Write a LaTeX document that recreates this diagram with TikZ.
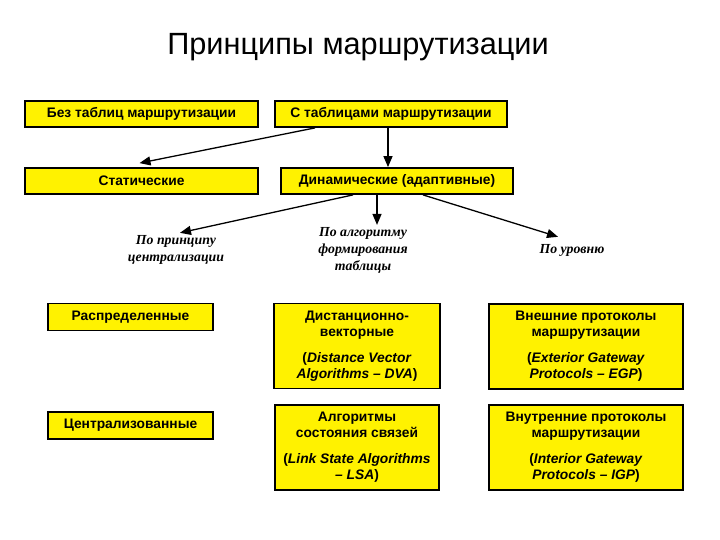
\documentclass[tikz,border=0pt]{standalone}
\usepackage{fontspec}
\setmainfont{Liberation Sans}
\newfontfamily\critfont{Liberation Serif}
\usetikzlibrary{arrows.meta, positioning}

\begin{document}
\begin{tikzpicture}[
    x=1pt, y=-1pt,
    box/.style={rectangle, draw, line width=1.8pt, fill=yellow, align=center,
        inner sep=0pt, font=\fontsize{13.8}{16}\selectfont\bfseries},
    wide/.style={box, minimum width=233pt, minimum height=26pt},
    short/.style={box, minimum width=165pt, minimum height=27pt},
    tall/.style={box, minimum height=85pt},
    crit/.style={align=center, inner sep=2pt,
        font=\critfont\fontsize{13.8}{17}\selectfont\bfseries\itshape},
    arr/.style={-{Triangle[length=11pt, width=9pt]}, line width=1.3pt},
]
\useasboundingbox (0,0) rectangle (720,540);

\node[anchor=base, font=\fontsize{30.7}{36}\selectfont] (title) at (358,55)
    {Принципы маршрутизации};

% first levels
\node[wide] (notab) at (141.5,114) {Без таблиц маршрутизации};
\node[wide, minimum width=232pt] (withtab) at (391,114)
    {С таблицами маршрутизации};
\node[wide] (static) at (141.5,181) {Статические};
\node[wide, minimum width=232pt] (dynamic) at (397,181)
    {Динамические (адаптивные)};

% criteria
\node[crit] (princ) at (176,249.5) {По принципу\\централизации};
\node[crit] (algo) at (363,250) {По алгоритму\\формирования\\таблицы};
\node[crit] (level) at (572,250) {По уровню};

% classes
\node[short] (distrib) at (130.5,317) {Распределенные};
\node[short] (central) at (130.5,425.5) {Централизованные};
\node[tall, minimum width=166pt] (dva) at (357,346)
    {Дистанционно-\\векторные\\[10pt]
     (\textit{Distance Vector}\\\textit{Algorithms – DVA})};
\node[tall, minimum width=194pt] (egp) at (586,346.5)
    {Внешние протоколы\\маршрутизации\\[10pt]
     (\textit{Exterior Gateway}\\\textit{Protocols – EGP})};
\node[tall, minimum width=164pt] (lsa) at (357,447.5)
    {Алгоритмы\\состояния связей\\[10pt]
     (\textit{Link State Algorithms}\\\textit{– LSA})};
\node[tall, minimum width=194pt] (igp) at (586,447.5)
    {Внутренние протоколы\\маршрутизации\\[10pt]
     (\textit{Interior Gateway}\\\textit{Protocols – IGP})};

\draw[arr] ([xshift=-76pt]withtab.south) -- ([xshift=-2pt, yshift=4pt]static.north);
\draw[arr] ([xshift=-3pt]withtab.south) -- ([xshift=-9pt]dynamic.north);
\draw[arr] ([xshift=-44pt]dynamic.south) -- ([xshift=4pt]princ.north);
\draw[arr] ([xshift=-20pt]dynamic.south) -- ([xshift=-20pt]dynamic.south |- algo.north);
\draw[arr] ([xshift=26pt]dynamic.south) -- ([xshift=-14pt, yshift=5pt]level.north);

\end{tikzpicture}
\end{document}
